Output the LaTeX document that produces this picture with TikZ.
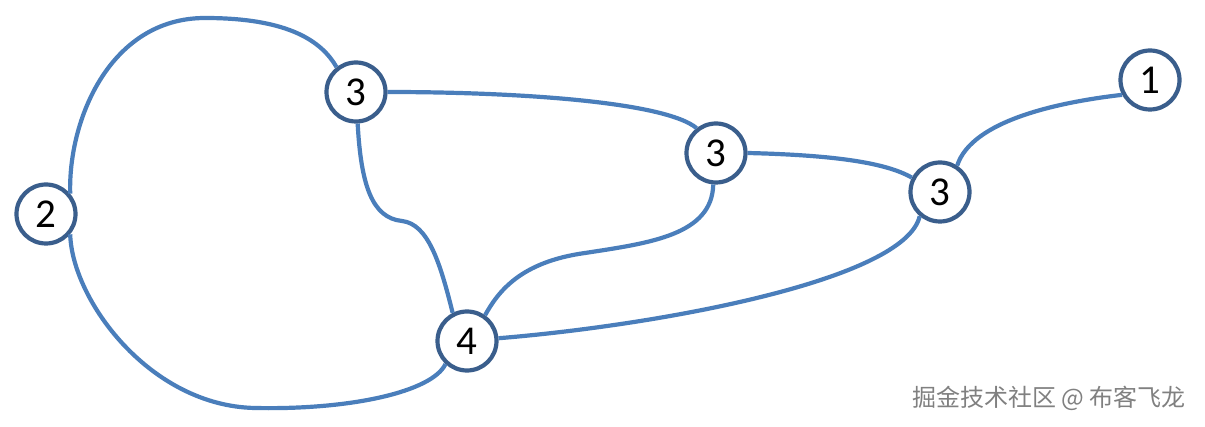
\documentclass[tikz,border=0pt]{standalone}
\usepackage{fontspec}
\setmainfont{Carlito}
\newfontfamily\cjk{Noto Sans CJK SC}
\definecolor{edgeblue}{RGB}{74,126,187}
\definecolor{ringblue}{RGB}{58,94,140}
\definecolor{wmgray}{RGB}{128,128,128}
\begin{document}
\begin{tikzpicture}[x=1pt,y=-1pt,
  vtx/.style={circle,draw=ringblue,line width=4.2pt,fill=white,minimum size=59pt,inner sep=0pt,font=\fontsize{41}{41}\selectfont},
  edge/.style={draw=edgeblue,line width=4.2pt}]
\useasboundingbox (0,0) rectangle (1205,427);
\node[vtx] (n2) at (46,214) {2};
\node[vtx] (n3a) at (356,92) {3};
\node[vtx] (n3b) at (716,153) {3};
\node[vtx] (n3c) at (940,192) {3};
\node[vtx] (n1) at (1150,80) {1};
\node[vtx] (n4) at (467,341) {4};
\coordinate (top) at (205,18);
\coordinate (bot) at (255,408);
\coordinate (kink) at (402,221);
\coordinate (mid5) at (585,253);
% edges
\draw[edge] (n2.40) .. controls (68,120) and (110,18) .. (top)
  .. controls (290,18) and (322,42) .. (n3a.128);
\draw[edge] (n2.-40) .. controls (72,300) and (150,406) .. (bot)
  .. controls (350,410) and (432,392) .. (n4.-133);
\draw[edge] (n3a.east) .. controls (520,92) and (665,102) .. (n3b.128);
\draw[edge] (n3a.-87) .. controls (361,185) and (372,218) .. (kink)
  .. controls (428,224) and (440,262) .. (n4.117);
\draw[edge] (n3b.-95) .. controls (712,235) and (650,243) .. (mid5)
  .. controls (520,262) and (498,292) .. (n4.55);
\draw[edge] (n3b.east) .. controls (830,155) and (885,162) .. (n3c.153);
\draw[edge] (n3c.-130) .. controls (905,280) and (660,325) .. (n4.5);
\draw[edge] (n3c.57) .. controls (972,120) and (1060,102) .. (n1.208);
\node[text=wmgray,anchor=east,font=\cjk\fontsize{24}{24}\selectfont] (wm) at (1189,398) {掘金技术社区 @ 布客飞龙};
\end{tikzpicture}
\end{document}
